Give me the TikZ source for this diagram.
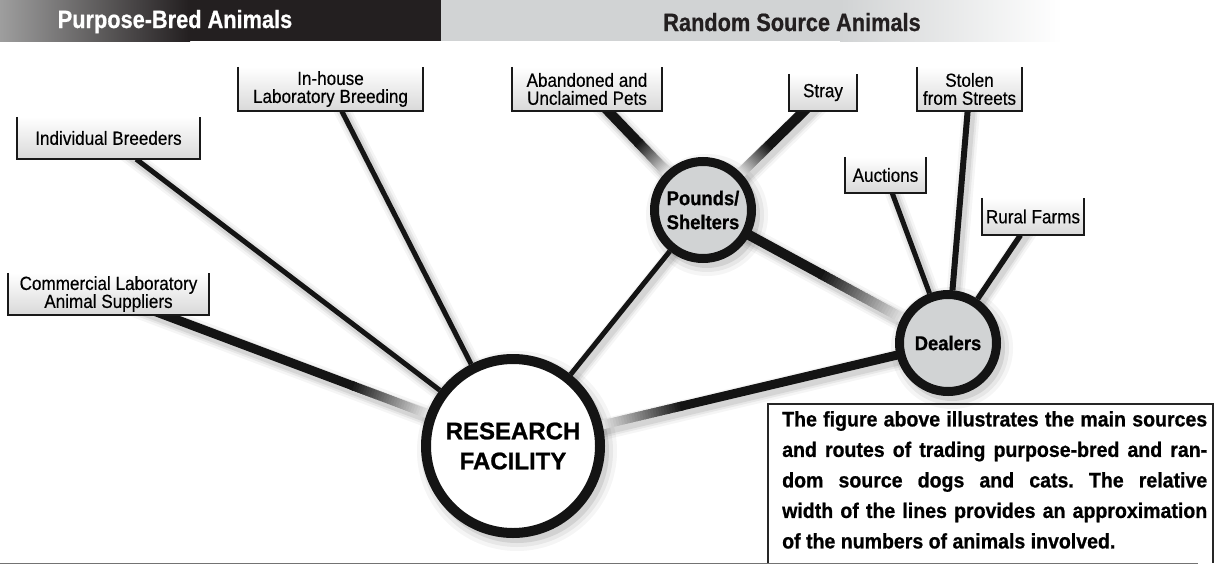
\documentclass[tikz,border=0pt]{standalone}
\usepackage{fontspec}
\setmainfont{Liberation Sans}
\newfontfamily\lblfont{Liberation Sans}[FakeStretch=0.9, FakeBold=0.4]
\newfontfamily\hdrfont{Liberation Sans}[FakeStretch=0.87, BoldFeatures={FakeBold=0.7}]
\newfontfamily\capfont{Liberation Sans}[FakeStretch=0.93, BoldFeatures={FakeBold=0.8}]
\newfontfamily\hubfont{Liberation Sans}[FakeStretch=0.92, BoldFeatures={FakeBold=0.8}]
\newfontfamily\rffont{Liberation Sans}[BoldFeatures={FakeBold=1.0}]
\usetikzlibrary{calc}
\definecolor{hdrblack}{HTML}{231F20}
\definecolor{hdrgray}{HTML}{D1D3D4}
\definecolor{hubgray}{HTML}{D1D3D4}
\pgfdeclarelayer{shd}\pgfdeclarelayer{bg}\pgfsetlayers{shd,bg,main}
\tikzset{
 srcbox/.style={rectangle, inner sep=0pt, top color=white, bottom color=black!15, font=\lblfont\fontsize{19}{18}\selectfont, align=center},
 bracket/.style={draw=black!90, line width=2pt, line join=miter},
 hub/.style={circle, draw=black!92, fill=hubgray, line width=9pt, inner sep=0pt, align=center, minimum size=97pt, font=\hubfont\bfseries\fontsize{20}{24}\selectfont},
 hdr/.style={anchor=base, inner sep=0pt, font=\hdrfont\bfseries\fontsize{25}{30}\selectfont},
}
\newcommand{\lnkshadow}[3]{%
 \begin{pgfonlayer}{shd}
 \foreach \ee/\oo in {12/0.04,7/0.06,3/0.08}{%
   \pgfmathsetmacro\lww{#3+\ee}
   \draw[black, opacity=\oo, line width=\lww pt, line cap=round] ([shift={(3,4)}]#1.center) -- ([shift={(3,4)}]#2.center);
 }
 \end{pgfonlayer}}
\newcommand{\plainlink}[3]{\lnkshadow{#1}{#2}{#3}%
 \begin{pgfonlayer}{bg}\draw[black!92, line width=#3pt] (#1) -- (#2);\end{pgfonlayer}}
\newcommand{\gradlink}[5]{\lnkshadow{#1}{#2}{#3}%
 \begin{pgfonlayer}{bg}
 \draw[black!92, line width=#3pt] (#1.center) -- ($(#1.center)!#4+0.01!(#2.center)$);
 \foreach \k in {0,...,29}{%
   \pgfmathsetmacro\ta{#4+(#5-#4)*\k/30}
   \pgfmathsetmacro\tb{#4+(#5-#4)*(\k+1.5)/30}
   \pgfmathsetmacro\gc{92-80*\k/29}
   \draw[black!\gc, line width=#3pt] ($(#1.center)!\ta!(#2.center)$) -- ($(#1.center)!\tb!(#2.center)$);
 }
 \draw[black!12, line width=#3pt] ($(#1.center)!#5!(#2.center)$) -- (#2.center);
 \end{pgfonlayer}}
\newcommand{\hubshadow}[2]{%
 \begin{pgfonlayer}{shd}
 \foreach \ee/\oo in {8/0.04,4/0.06,0/0.09}{%
   \pgfmathsetmacro\rr{#2+\ee}
   \fill[black, opacity=\oo] ([shift={(4,5)}]#1.center) circle[radius=\rr pt];
 }
 \end{pgfonlayer}}
\begin{document}
\begin{tikzpicture}[x=1pt,y=-1pt]
\useasboundingbox (0,0) rectangle (1214,565);
% header
\fill[hdrblack] (185,0) rectangle (441,41);
\fill[left color=black!38, right color=hdrblack] (0,0) rectangle (190,41);
\fill[hdrgray] (441,0) rectangle (841,41);
\fill[left color=hdrgray, right color=white] (840,0) rectangle (1062,41);
\node[hdr, text=white] (h1) at (175,28) {Purpose-Bred Animals};
\node[hdr, text=hdrblack] (h2) at (792,31) {Random Source Animals};
% source boxes
\node[srcbox, minimum width=183pt, minimum height=42pt] (ib) at (108.5,138) {Individual Breeders};
\node[srcbox, minimum width=185pt, minimum height=44pt] (ih) at (330.5,89) {In-house\\Laboratory Breeding};
\node[srcbox, minimum width=201pt, minimum height=42pt] (cl) at (108.5,294) {Commercial Laboratory\\Animal Suppliers};
\node[srcbox, minimum width=150pt, minimum height=44pt] (ab) at (587,89) {Abandoned and\\Unclaimed Pets};
\node[srcbox, minimum width=68pt, minimum height=37pt] (st) at (823,92.5) {Stray};
\node[srcbox, minimum width=105pt, minimum height=44pt] (sf) at (969.5,89) {Stolen\\from Streets};
\node[srcbox, minimum width=81pt, minimum height=36pt] (au) at (885.5,175) {Auctions};
\node[srcbox, minimum width=102pt, minimum height=37pt] (rf) at (1033,216.5) {Rural Farms};
\foreach \n in {ib,ih,cl,ab,st,sf,au,rf}
  \draw[bracket] (\n.north west) -- (\n.south west) -- (\n.south east) -- (\n.north east);
% hubs
\node[hub, fill=white, line width=10pt, minimum size=174pt, font=\rffont\bfseries\fontsize{24}{30}\selectfont] (RF) at (513,446) {RESEARCH\\FACILITY};
\node[hub] (PS) at (703,210) {Pounds/\\Shelters};
\node[hub] (DL) at (948,343) {\raisebox{-3pt}{Dealers}};
\hubshadow{RF}{92}
\hubshadow{PS}{53}
\hubshadow{DL}{53}
% links
\gradlink{cl}{RF}{9}{0.60}{0.787}
\plainlink{ib}{RF}{5}
\plainlink{ih}{RF}{5}
\plainlink{PS}{RF}{5}
\gradlink{DL}{RF}{9}{0.61}{0.794}
\gradlink{ab}{PS}{10}{0.44}{0.685}
\gradlink{st}{PS}{10}{0.445}{0.686}
\gradlink{PS}{DL}{10}{0.48}{0.813}
\plainlink{au}{DL}{5}
\plainlink{sf}{DL}{6}
\plainlink{rf}{DL}{5.5}
% caption
\node[anchor=north west, inner sep=0pt, text width=425pt, align=justify,
  font=\capfont\bfseries\fontsize{21}{30.5}\selectfont] (cap) at (782,411)
 {\frenchspacing\hyphenpenalty=10000\exhyphenpenalty=10000\tolerance=9999
 The figure above illustrates the main sources\linebreak and routes of trading purpose-bred and ran-\linebreak dom source dogs and cats. The relative\linebreak width of the lines provides an approximation\linebreak of the numbers of animals involved.};
\draw[black!85, line width=1.5pt] (768,563) -- (768,404) -- (1213,404) -- (1213,563);
\draw[black!55, line width=1.5pt] (0,563.5) -- (1198,563.5);
\end{tikzpicture}
\end{document}
